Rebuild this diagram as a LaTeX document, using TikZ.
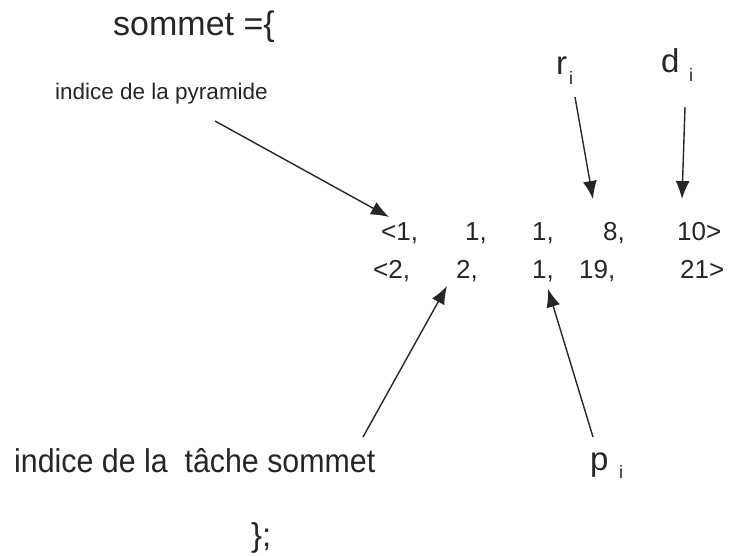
\documentclass[tikz,border=0pt]{standalone}
\usepackage{fontspec}
\setmainfont{Liberation Sans}
\newfontfamily\narrowfont[FakeStretch=0.92]{Liberation Sans}
\usetikzlibrary{arrows.meta}
\begin{document}
\begin{tikzpicture}[x=1pt,y=-1pt,
  lbl/.style={inner sep=0pt,anchor=base west,text=black!85},
  num/.style={lbl,font=\fontsize{26}{26}\selectfont},
  big/.style={lbl,font=\fontsize{33}{33}\selectfont},
  small/.style={lbl,font=\fontsize{22.5}{22.5}\selectfont},
  sub/.style={lbl,font=\fontsize{18}{18}\selectfont},
  arr/.style={-{Latex[length=18pt,width=14pt]},line width=1.4pt,draw=black!85}]
\useasboundingbox (0,0) rectangle (733,556);
% title and closing
\node[lbl,font=\fontsize{34}{34}\selectfont] (title) at (113,36) {sommet =\{};
\node[big] (close) at (251,546) {\};};
% labels
\node[small] (pyr) at (55,100) {indice de la pyramide};
\node[lbl,font=\narrowfont\fontsize{33}{33}\selectfont] (tache) at (14,472) {indice de la \ tâche sommet};
\node[big] (r) at (556,75) {r};
\node[sub] (ri) at (569,85) {i};
\node[big] (d) at (661,73) {d};
\node[sub] (di) at (689,82) {i};
\node[big] (p) at (590,470) {p};
\node[sub] (pi) at (619,478) {i};
% rows
\node[num] (a1) at (381,240) {<1,};
\node[num] (b1) at (465,240) {1,};
\node[num] (c1) at (532,240) {1,};
\node[num] (d1) at (603,240) {8,};
\node[num] (e1) at (677,240) {10>};
\node[num] (a2) at (373,278) {<2,};
\node[num] (b2) at (456,278) {2,};
\node[num] (c2) at (532,278) {1,};
\node[num] (d2) at (579,278) {19,};
\node[num] (e2) at (680,278) {21>};
% arrow ends
\coordinate (pyrT) at (215,121);
\coordinate (pyrH) at (389,217);
\coordinate (rT) at (575,97);
\coordinate (rH) at (593,199);
\coordinate (dT) at (685,107);
\coordinate (dH) at (682,199);
\coordinate (tT) at (363,437);
\coordinate (tH) at (447,286);
\coordinate (pT) at (593,437);
\coordinate (pH) at (548,289);
\draw[arr] (pyrT) -- (pyrH);
\draw[arr] (rT) -- (rH);
\draw[arr] (dT) -- (dH);
\draw[arr] (tT) -- (tH);
\draw[arr] (pT) -- (pH);
\end{tikzpicture}
\end{document}
